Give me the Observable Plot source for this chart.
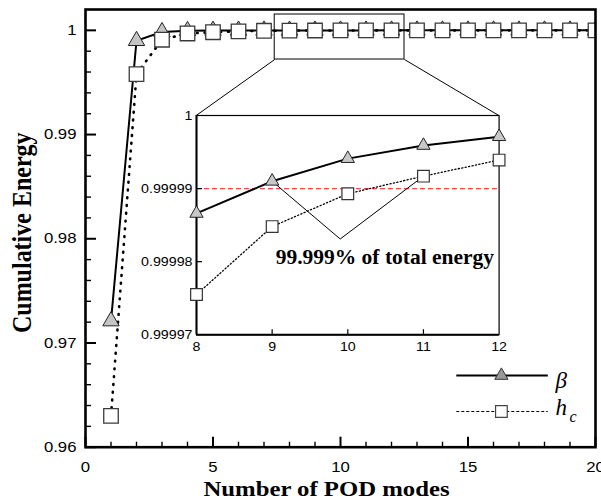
<!DOCTYPE html>
<html><head><meta charset="utf-8">
<script src="https://cdn.jsdelivr.net/npm/d3@7"></script>
<script src="https://cdn.jsdelivr.net/npm/@observablehq/plot@0.6"></script>
<style>
html,body{margin:0;padding:0;background:#fff;}
#wrap{position:relative;width:601px;height:504px;overflow:hidden;}
#wrap svg{display:block;}
</style></head><body><div id="wrap"></div>
<script>
// ---------- data ----------
const modes = [1,2,3,4,5,6,7,8,9,10,11,12,13,14,15,16,17,18,19,20];
const beta  = [0.9721, 0.9990, 0.99985, 0.99995, 0.99998, 0.999992, 0.999995, 0.9999866, 0.999991, 0.9999941,
               0.9999959, 0.9999971, 0.999998, 0.9999985, 0.9999989, 0.9999992, 0.9999994, 0.9999996, 0.9999997, 0.9999998];
const hc    = [0.9630, 0.9958, 0.9991, 0.9997, 0.99982, 0.99990, 0.99996, 0.9999755, 0.9999848, 0.9999893,
               0.9999917, 0.9999939, 0.999995, 0.999996, 0.9999968, 0.9999975, 0.999998, 0.9999985, 0.9999989, 0.9999992];

const xMajor = [0, 5, 10, 15, 20];
const xMajorLabels = ["0", "5", "10", "15", "20"];
const xMinor = [1,2,3,4,6,7,8,9,11,12,13,14,16,17,18,19];
const yMajor = [0.96, 0.97, 0.98, 0.99, 1];
const yMajorLabels = ["0.96", "0.97", "0.98", "0.99", "1"];
const yMinor = [0.962,0.964,0.966,0.968,0.972,0.974,0.976,0.978,0.982,0.984,0.986,0.988,0.992,0.994,0.996,0.998];

const insetXTicks = [8, 9, 10, 11, 12];
const insetXLabels = ["8", "9", "10", "11", "12"];
const insetYTicks = [0.99997, 0.99998, 0.99999, 1];
const insetYLabels = ["0.99997", "0.99998", "0.99999", "1"];
const threshold = [0.99999];
const annotationText = ["99.999% of total energy"];
const vMarkX = [9, 9.9, 11];
const vMarkY = [0.999991, 0.9999831, 0.9999917];

const legendNames = ["β", "h"];
const legendSubs = ["", "c"];

const xLabel = "Number of POD modes";
const yLabel = "Cumulative Energy";

// ---------- layout ----------
const W = 601, H = 504, ML = 85, MR = 6, MT = 9, MB = 57.3;
const xDomain = [0, 20], yDomain = [0.96, 1.002];
const FW = W - ML - MR, FH = H - MT - MB;
const zoomBox = {x1: 7.42, x2: 12.51, y1: 0.99720, y2: 1.00152};
const insetBox = {x1: 4.341, x2: 16.208, y1: 0.97079, y2: 0.99183};
const legendLayout = {x1: 14.54, x2: 18.13, xm: 16.31, xl: 18.43, xs: 18.98, y: [0.96688, 0.963426]};

const rows = modes.map((m, i) => ({mode: m, beta: beta[i], hc: hc[i]}));
const insetRows = rows.filter(r => r.mode >= insetXTicks[0] && r.mode <= insetXTicks[insetXTicks.length - 1]);

const serif = "'Liberation Serif', 'Times New Roman', serif";
const sans = "'Liberation Sans', Arial, sans-serif";

const legendRows = legendNames.map((n, i) => ({name: n, sub: legendSubs[i], y: legendLayout.y[i]}));

const main = Plot.plot({
  width: W, height: H, marginLeft: ML, marginRight: MR, marginTop: MT, marginBottom: MB,
  style: {fontFamily: sans, fontSize: "14.7px", background: "white", color: "black"},
  x: {domain: xDomain, axis: null},
  y: {domain: yDomain, axis: null},
  marks: [
    Plot.line(rows, {x: "mode", y: "beta", stroke: "black", strokeWidth: 2, clip: true}),
    Plot.line(rows, {x: "mode", y: "hc", stroke: "black", strokeWidth: 2.6, strokeDasharray: "0.8,7", strokeLinecap: "round", clip: true}),
    Plot.dot(rows, {x: "mode", y: "beta", symbol: "triangle", r: 6.1, fill: "#c4c4c4", stroke: "#222", strokeWidth: 1, clip: true}),
    Plot.dot(rows, {x: "mode", y: "hc", symbol: "square", r: 8.2, fill: "white", stroke: "#3a3a3a", strokeWidth: 1.3, clip: true}),
    // zoom box and connectors
    Plot.rect([zoomBox], {x1: "x1", x2: "x2", y1: "y1", y2: "y2", fill: "none", stroke: "black", strokeWidth: 1}),
    Plot.link([
      {x1: zoomBox.x1, y1: zoomBox.y1, x2: insetBox.x1, y2: insetBox.y2},
      {x1: zoomBox.x2, y1: zoomBox.y1, x2: insetBox.x2, y2: insetBox.y2}
    ], {x1: "x1", y1: "y1", x2: "x2", y2: "y2", stroke: "black", strokeWidth: 1}),
    // frame and inward ticks
    Plot.frame({stroke: "black", strokeWidth: 2.6}),
    Plot.ruleX(xMajor, {x: d => d, insetTop: FH - 10, stroke: "black", strokeWidth: 2}),
    Plot.ruleX(xMinor, {x: d => d, insetTop: FH - 5, stroke: "black", strokeWidth: 1.4}),
    Plot.ruleY(yMajor, {y: d => d, insetRight: FW - 11, stroke: "black", strokeWidth: 2}),
    Plot.ruleY(yMinor, {y: d => d, insetRight: FW - 6, stroke: "black", strokeWidth: 1.4}),
    // tick labels
    Plot.text(xMajor, {x: d => d, text: (d, i) => xMajorLabels[i], frameAnchor: "bottom", dy: 14, lineAnchor: "top", fill: "black"}),
    Plot.text(yMajor, {y: d => d, text: (d, i) => yMajorLabels[i], frameAnchor: "left", dx: -9, textAnchor: "end", lineAnchor: "middle", fill: "black"}),
    // axis titles
    Plot.text([xLabel], {text: d => d, frameAnchor: "bottom", dx: -14, dy: 48.5, lineAnchor: "bottom", textAnchor: "middle",
      fontFamily: serif, fontWeight: "bold", fontSize: 21.7, fill: "black"}),
    Plot.text([yLabel], {text: d => d, frameAnchor: "left", rotate: -90, dx: -63, dy: 4.4, lineAnchor: "middle", textAnchor: "middle",
      fontFamily: serif, fontWeight: "bold", fontSize: 24, fill: "black"}),
    // legend
    Plot.link(legendRows.slice(0, 1), {x1: () => legendLayout.x1, x2: () => legendLayout.x2, y1: "y", y2: "y", stroke: "black", strokeWidth: 2}),
    Plot.link(legendRows.slice(1, 2), {x1: () => legendLayout.x1, x2: () => legendLayout.x2, y1: "y", y2: "y", stroke: "black", strokeWidth: 1, strokeDasharray: "3,2"}),
    Plot.dot(legendRows.slice(0, 1), {x: () => legendLayout.xm, y: "y", symbol: "triangle", r: 4.9, fill: "#999", stroke: "#333", strokeWidth: 1}),
    Plot.dot(legendRows.slice(1, 2), {x: () => legendLayout.xm, y: "y", symbol: "square", r: 6.6, fill: "white", stroke: "#444", strokeWidth: 1.2}),
    Plot.text(legendRows.slice(0, 1), {x: () => legendLayout.xl, y: "y", text: "name", dy: 12, textAnchor: "start", lineAnchor: "bottom",
      fontFamily: serif, fontStyle: "italic", fontSize: 23, fill: "black"}),
    Plot.text(legendRows.slice(1, 2), {x: () => legendLayout.xl, y: "y", text: "name", dy: 4, textAnchor: "start", lineAnchor: "bottom",
      fontFamily: serif, fontStyle: "italic", fontSize: 23, fill: "black"}),
    Plot.text(legendRows.filter(d => d.sub), {x: () => legendLayout.xs, y: "y", text: "sub", dy: 10.7, textAnchor: "start", lineAnchor: "bottom",
      fontFamily: serif, fontStyle: "italic", fontSize: 16, fill: "black"})
  ]
});

// ---------- inset ----------
const xs = d3.scaleLinear(xDomain, [ML, W - MR]);
const ys = d3.scaleLinear(yDomain, [H - MB, MT]);
const bL = xs(insetBox.x1), bR = xs(insetBox.x2), bT = ys(insetBox.y2), bB = ys(insetBox.y1);
const IML = 70, IMR = 14, IMT = 14, IMB = 26;
const iw = bR - bL, ih = bB - bT;

const inset = Plot.plot({
  width: iw + IML + IMR, height: ih + IMT + IMB,
  marginLeft: IML, marginRight: IMR, marginTop: IMT, marginBottom: IMB,
  style: {fontFamily: sans, fontSize: "12.6px", color: "black"},
  x: {domain: [insetXTicks[0], insetXTicks[insetXTicks.length - 1]], axis: null},
  y: {domain: [insetYTicks[0], insetYTicks[insetYTicks.length - 1]], axis: null},
  marks: [
    Plot.rect([0], {x1: () => insetXTicks[0], x2: () => insetXTicks[insetXTicks.length - 1],
      y1: () => insetYTicks[0], y2: () => insetYTicks[insetYTicks.length - 1], fill: "white"}),
    Plot.ruleY(threshold, {y: d => d, stroke: "#ff4545", strokeWidth: 1.3, strokeDasharray: "5,3"}),
    Plot.line(vMarkX.map((x, i) => ({x, y: vMarkY[i]})), {x: "x", y: "y", stroke: "black", strokeWidth: 1}),
    Plot.line(insetRows, {x: "mode", y: "hc", stroke: "black", strokeWidth: 1.3, strokeDasharray: "1.2,2.3"}),
    Plot.line(insetRows, {x: "mode", y: "beta", stroke: "black", strokeWidth: 2}),
    Plot.frame({stroke: "black", strokeWidth: 1.2}),
    Plot.ruleX(insetXTicks.slice(0, 1), {x: d => d, stroke: "black", strokeWidth: 2}),
    Plot.ruleY(insetYTicks.slice(0, 1), {y: d => d, stroke: "black", strokeWidth: 2}),
    Plot.ruleX(insetXTicks.slice(1, -1), {x: d => d, insetTop: ih - 5, stroke: "black", strokeWidth: 1.2}),
    Plot.ruleY(insetYTicks.slice(1, -1), {y: d => d, insetRight: iw - 6, stroke: "black", strokeWidth: 1.2}),
    Plot.dot(insetRows, {x: "mode", y: "beta", symbol: "triangle", r: 4.94, fill: "#c8c8c8", stroke: "#222", strokeWidth: 1}),
    Plot.dot(insetRows, {x: "mode", y: "hc", symbol: "square", r: 6.6, fill: "white", stroke: "#333", strokeWidth: 1.2}),
    Plot.text(annotationText, {text: d => d, x: () => 10.49, y: () => 0.9999797, textAnchor: "middle", lineAnchor: "bottom",
      fontFamily: serif, fontWeight: "bold", fontSize: 21.5, fill: "black"}),
    Plot.text(insetXTicks, {x: d => d, text: (d, i) => insetXLabels[i], frameAnchor: "bottom", dy: 7.4, lineAnchor: "top", fill: "black"}),
    Plot.text(insetYTicks, {y: d => d, text: (d, i) => insetYLabels[i], frameAnchor: "left", dx: -4, textAnchor: "end", lineAnchor: "middle", fill: "black"})
  ]
});
inset.style.position = "absolute";
inset.style.left = (bL - IML) + "px";
inset.style.top = (bT - IMT) + "px";
inset.style.background = "transparent";
inset.style.maxWidth = "none";

const wrap = document.getElementById("wrap");
wrap.appendChild(main);
wrap.appendChild(inset);

// horizontal stretch of tick / axis label glyphs, as in the reference (done after layout)
function stretch(svg, labels, k) {
  const set = new Set(labels);
  const NS = "http://www.w3.org/2000/svg";
  Array.from(svg.querySelectorAll("text")).forEach(t => {
    if (!set.has(t.textContent)) return;
    const anchor = getComputedStyle(t).textAnchor;
    const g = document.createElementNS(NS, "g");
    t.parentNode.insertBefore(g, t);
    g.appendChild(t);
    const b = g.getBBox();
    const rotated = /rotate/.test(t.getAttribute("transform") || "");
    let ax = b.x + b.width / 2;
    if (!rotated && anchor === "end") ax = b.x + b.width;
    if (!rotated && anchor === "start") ax = b.x;
    const ay = b.y + b.height / 2;
    g.setAttribute("transform", `translate(${ax},${ay}) scale(${k},1) translate(${-ax},${-ay})`);
  });
}
stretch(main, [...xMajorLabels, ...yMajorLabels, xLabel, yLabel], 1.14);
stretch(inset, [...insetXLabels, ...insetYLabels], 1.13);
</script></body></html>
